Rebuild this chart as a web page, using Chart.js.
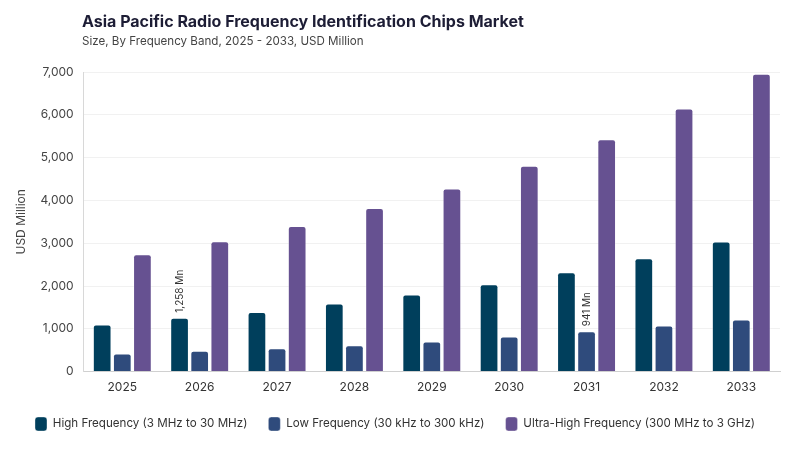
<!DOCTYPE html>
<html>
<head>
<meta charset="utf-8">
<script src="https://cdn.jsdelivr.net/npm/chart.js@4"></script>
<style>
  html, body { margin: 0; padding: 0; background: #fff; }
  .wrap { position: relative; width: 800px; height: 450px; font-family: 'Inter', sans-serif; }
  .title { position: absolute; left: 82px; top: 11px; font-size: 16px; font-weight: 700; color: #1d1d35; }
  .subtitle { position: absolute; left: 82px; top: 34px; font-size: 11.6px; color: #444; }
  canvas { position: absolute; left: 0; top: 0; }
</style>
</head>
<body>
<div class="wrap">
  <canvas id="chart" width="800" height="450"></canvas>
  <div class="title">Asia Pacific Radio Frequency Identification Chips Market</div>
  <div class="subtitle">Size, By Frequency Band, 2025 - 2033, USD Million</div>
</div>
<script>
/* ---------- DATA ---------- */
const years = ['2025', '2026', '2027', '2028', '2029', '2030', '2031', '2032', '2033'];
const highFreq = [1100, 1258, 1390, 1590, 1800, 2040, 2320, 2650, 3040];
const lowFreq = [420, 490, 545, 615, 705, 820, 941, 1075, 1215];
const ultraHighFreq = [2740, 3045, 3400, 3820, 4280, 4810, 5430, 6150, 6960];
const yTicks = [0, 1000, 2000, 3000, 4000, 5000, 6000, 7000];

// callouts: [datasetIndex, categoryIndex, text]
const callouts = [
  [0, 1, '1,258 Mn'],
  [1, 6, '941 Mn']
];

const fontFamily = "'Inter', sans-serif";

// draws the rotated value labels above chosen bars
const calloutPlugin = {
  id: 'callouts',
  afterDatasetsDraw(chart) {
    const ctx = chart.ctx;
    ctx.save();
    ctx.font = '10px ' + fontFamily;
    ctx.fillStyle = '#333';
    ctx.textAlign = 'left';
    ctx.textBaseline = 'middle';
    callouts.forEach(([ds, idx, text]) => {
      const bar = chart.getDatasetMeta(ds).data[idx];
      ctx.save();
      ctx.translate(bar.x, bar.y - 5);
      ctx.rotate(-Math.PI / 2);
      ctx.fillText(text, 0, 0);
      ctx.restore();
    });
    ctx.restore();
  }
};

const barCommon = {
  borderRadius: 3,
  borderSkipped: 'bottom',
  borderWidth: 1,
  borderColor: 'rgba(255,255,255,0.35)',
  barPercentage: 0.93,
  categoryPercentage: 0.78
};

new Chart(document.getElementById('chart'), {
  type: 'bar',
  data: {
    labels: years,
    datasets: [
      { label: 'High Frequency (3 MHz to 30 MHz)', data: highFreq, backgroundColor: '#003f5c', ...barCommon },
      { label: 'Low Frequency (30 kHz to 300 kHz)', data: lowFreq, backgroundColor: '#2f4b7c', ...barCommon },
      { label: 'Ultra-High Frequency (300 MHz to 3 GHz)', data: ultraHighFreq, backgroundColor: '#665191', ...barCommon }
    ]
  },
  options: {
    responsive: false,
    animation: false,
    layout: { padding: { top: 72, right: 20, left: 10, bottom: 9 } },
    plugins: {
      legend: {
        position: 'bottom',
        labels: {
          font: { family: fontFamily, size: 11.6 },
          color: '#333',
          boxWidth: 12,
          boxHeight: 14,
          useBorderRadius: true,
          borderRadius: 3,
          padding: 21
        }
      },
      tooltip: { enabled: false }
    },
    scales: {
      x: {
        grid: { display: false },
        border: { color: '#d0d0d0' },
        ticks: { font: { family: fontFamily, size: 12 }, color: '#333', padding: 1 }
      },
      y: {
        min: 0,
        max: 7000,
        afterBuildTicks: axis => { axis.ticks = yTicks.map(v => ({ value: v })); },
        grid: { color: '#f1f1f1', drawTicks: false },
        border: { color: '#d8d8d8' },
        ticks: {
          font: { family: fontFamily, size: 12 },
          color: '#444',
          padding: 10,
          callback: v => v.toLocaleString('en-US')
        },
        title: {
          display: true,
          text: 'USD Million',
          font: { family: fontFamily, size: 12 },
          color: '#444',
          padding: { bottom: 2 }
        }
      }
    }
  },
  plugins: [calloutPlugin]
});
</script>
</body>
</html>
